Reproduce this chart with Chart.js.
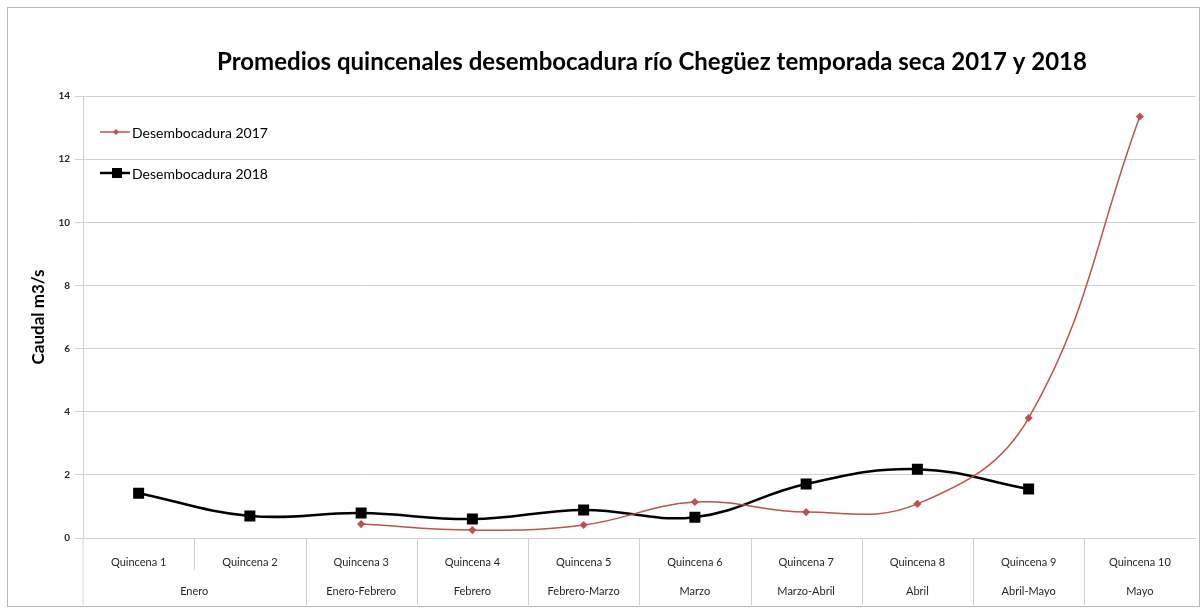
<!DOCTYPE html>
<html>
<head>
<meta charset="utf-8">
<script src="https://cdn.jsdelivr.net/npm/chart.js@4/dist/chart.umd.min.js"></script>
<style>
  html, body { margin: 0; padding: 0; background: #fff; }
  #wrap { width: 1204px; height: 611px; position: relative; }
</style>
</head>
<body>
<div id="wrap"><canvas id="chart" width="1204" height="611"></canvas></div>
<script>
// datos
const quincenas = ['Quincena 1', 'Quincena 2', 'Quincena 3', 'Quincena 4', 'Quincena 5',
    'Quincena 6', 'Quincena 7', 'Quincena 8', 'Quincena 9', 'Quincena 10'];
const meses = ['Enero', 'Enero-Febrero', 'Febrero', 'Febrero-Marzo', 'Marzo',
    'Marzo-Abril', 'Abril', 'Abril-Mayo', 'Mayo'];
const mesDesde = [0, 2, 3, 4, 5, 6, 7, 8, 9];
const mesHasta = [1, 2, 3, 4, 5, 6, 7, 8, 9];
const desembocadura2017 = [null, null, 0.44, 0.25, 0.41, 1.14, 0.82, 1.08, 3.8, 13.35];
const desembocadura2018 = [1.42, 0.70, 0.79, 0.60, 0.89, 0.66, 1.71, 2.18, 1.55, null];
const tituloGrafico = 'Promedios quincenales desembocadura río Chegüez temporada seca 2017 y 2018';

const FONT = 'Lato, "Open Sans", sans-serif';
const ROJO = '#c0504d';
const GRIS_LINEA = '#d0d0d0';

// tabla de categorías, título, leyenda y borde
const tablaPlugin = {
    id: 'tabla',
    afterDraw(chart) {
        const ctx = chart.ctx;
        const x = chart.scales.x;
        const area = chart.chartArea;
        const bottom = x.bottom;
        const mid = area.bottom + 32;
        ctx.save();

        // borde exterior
        ctx.strokeStyle = '#b8b8b8';
        ctx.lineWidth = 1;
        ctx.strokeRect(7.5, 7.5, 1192, 599);

        // líneas verticales de la tabla
        ctx.strokeStyle = GRIS_LINEA;
        for (let i = 0; i < quincenas.length; i++) {
            const px = i === 0 ? area.left : Math.round((x.getPixelForValue(i - 1) + x.getPixelForValue(i)) / 2) + 0.5;
            const interior = mesDesde.indexOf(i) === -1;
            ctx.beginPath();
            ctx.moveTo(px, area.bottom);
            ctx.lineTo(px, interior ? mid : bottom);
            ctx.stroke();
        }

        // fila de meses
        ctx.fillStyle = '#262626';
        ctx.font = '11px ' + FONT;
        ctx.textAlign = 'center';
        ctx.textBaseline = 'middle';
        meses.forEach((m, k) => {
            const cx = (x.getPixelForValue(mesDesde[k]) + x.getPixelForValue(mesHasta[k])) / 2;
            ctx.fillText(m, cx, area.bottom + 53);
        });

        // título
        ctx.fillStyle = '#000';
        ctx.font = 'bold 24px ' + FONT;
        ctx.fillText(tituloGrafico, 652, 62);

        // leyenda
        const items = [
            { y: 132, color: ROJO, width: 1.5, marker: 'diamond', text: 'Desembocadura 2017' },
            { y: 173, color: '#000', width: 2.5, marker: 'square', text: 'Desembocadura 2018' }
        ];
        items.forEach(it => {
            ctx.strokeStyle = it.color;
            ctx.lineWidth = it.width;
            ctx.beginPath();
            ctx.moveTo(100, it.y);
            ctx.lineTo(130, it.y);
            ctx.stroke();
            ctx.fillStyle = it.color;
            if (it.marker === 'square') {
                ctx.fillRect(112, it.y - 5, 10, 10);
            } else {
                ctx.beginPath();
                ctx.moveTo(116, it.y - 3);
                ctx.lineTo(119, it.y);
                ctx.lineTo(116, it.y + 3);
                ctx.lineTo(113, it.y);
                ctx.closePath();
                ctx.fill();
            }
            ctx.fillStyle = '#000';
            ctx.font = '14px ' + FONT;
            ctx.textAlign = 'left';
            ctx.fillText(it.text, 132, it.y + 1);
        });
        ctx.restore();
    }
};

const ctx = document.getElementById('chart').getContext('2d');
new Chart(ctx, {
    type: 'line',
    data: {
        labels: quincenas,
        datasets: [
            {
                label: 'Desembocadura 2017',
                data: desembocadura2017,
                borderColor: ROJO,
                backgroundColor: ROJO,
                borderWidth: 1.5,
                pointStyle: 'rectRot',
                pointRadius: 3,
                tension: 0.4
            },
            {
                label: 'Desembocadura 2018',
                data: desembocadura2018,
                borderColor: '#000',
                backgroundColor: '#000',
                borderWidth: 2.5,
                pointStyle: 'rect',
                pointRadius: 6,
                tension: 0.4
            }
        ]
    },
    options: {
        responsive: false,
        animation: false,
        layout: { padding: { top: 96, left: 8, right: 8, bottom: 6 } },
        plugins: {
            legend: { display: false },
            title: { display: false },
            tooltip: { enabled: false }
        },
        scales: {
            x: {
                offset: true,
                grid: { display: false },
                border: { color: GRIS_LINEA },
                ticks: {
                    color: '#262626',
                    font: { family: FONT, size: 11 },
                    padding: 10,
                    maxRotation: 0,
                    autoSkip: false
                },
                afterFit(scale) { scale.height = 67; }
            },
            y: {
                min: 0,
                max: 14,
                ticks: {
                    stepSize: 2,
                    color: '#262626',
                    font: { family: FONT, size: 10, weight: 'bold' },
                    padding: 5
                },
                grid: { color: GRIS_LINEA, tickLength: 8 },
                border: { color: GRIS_LINEA },
                title: {
                    display: true,
                    text: 'Caudal m3/s',
                    color: '#000',
                    font: { family: FONT, size: 17, weight: 'bold' },
                    padding: { top: 20, bottom: 0 }
                },
                afterFit(scale) { scale.width = 75; }
            }
        }
    },
    plugins: [tablaPlugin]
});
</script>
</body>
</html>
